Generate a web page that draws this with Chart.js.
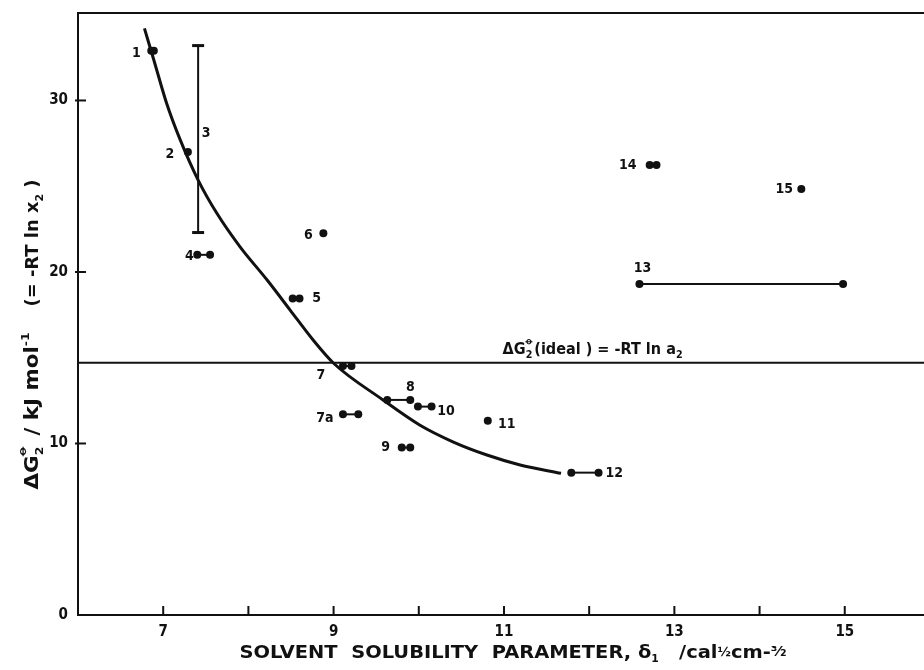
<!DOCTYPE html>
<html>
<head>
<meta charset="utf-8">
<script src="https://cdn.jsdelivr.net/npm/chart.js@4.4.0/dist/chart.umd.min.js"></script>
<style>
  html, body { margin: 0; padding: 0; background: #fff; }
  #wrap { width: 924px; height: 670px; }
</style>
</head>
<body>
<div id="wrap"><canvas id="solChart" width="924" height="670"></canvas></div>
<script>
// solvents: id, delta1 range (low/high) and dG2 value
const solventIds = ['1', '2', '4', '5', '6', '7', '7a', '8', '9', '10', '11', '12', '13', '14', '15'];
const solventLowX = [6.86, 7.29, 7.40, 8.52, 8.88, 9.11, 9.11, 9.63, 9.80, 9.99, 10.81, 11.79, 12.59, 12.71, 14.49];
const solventHighX = [6.89, 7.29, 7.55, 8.60, 8.88, 9.21, 9.29, 9.90, 9.90, 10.15, 10.81, 12.11, 14.98, 12.79, 14.49];
const solventDeltaG = [32.9, 27.0, 21.0, 18.45, 22.26, 14.52, 11.70, 12.54, 9.76, 12.15, 11.33, 8.30, 19.30, 26.24, 24.84];

// solvent 3 is a vertical range
const rangeId = '3';
const rangeX = 7.41;
const rangeLow = 22.3;
const rangeHigh = 33.2;

// fitted curve
const curveX = [6.78, 6.89, 7.04, 7.20, 7.41, 7.63, 7.90, 8.22, 8.49, 8.76, 9.0, 9.58, 10.01, 10.40, 10.80, 11.19, 11.67];
const curveY = [34.2, 32.36, 29.84, 27.70, 25.36, 23.42, 21.48, 19.53, 17.78, 16.03, 14.68, 12.54, 11.08, 10.10, 9.33, 8.75, 8.26];

// ideal line
const idealDeltaG = 14.71;

// axis ticks
const xTickValues = [7, 8, 9, 10, 11, 12, 13, 14, 15];
const xTickLabels = ['7', '', '9', '', '11', '', '13', '', '15'];
const yTickValues = [0, 10, 20, 30];

const INK = '#111';
const FONT = "'DejaVu Sans', sans-serif";
const COND = "'DejaVu Sans Condensed', 'DejaVu Sans', sans-serif";

// label offsets in px from the first mark of each solvent
const labelOffsets = {
  '1': [-15, 3], '2': [-18, 2], '4': [-8, 2], '5': [24, 0], '6': [-15, 2],
  '7': [-22, 9], '7a': [-18, 4], '8': [23, -13], '9': [-16, 0], '10': [28, 5],
  '11': [19, 4], '12': [43, 1], '13': [3, -16], '14': [-22, 0], '15': [-17, 0]
};

const datasets = [];

datasets.push({
  data: curveX.map((x, i) => ({ x: x, y: curveY[i] })),
  showLine: true,
  borderColor: INK,
  borderWidth: 3,
  pointRadius: 0,
  cubicInterpolationMode: 'monotone'
});

datasets.push({
  data: [{ x: 6, y: idealDeltaG }, { x: 15.93, y: idealDeltaG }],
  showLine: true,
  borderColor: INK,
  borderWidth: 2,
  pointRadius: 0
});

datasets.push({
  data: [{ x: rangeX, y: rangeLow }, { x: rangeX, y: rangeHigh }],
  showLine: true,
  borderColor: INK,
  backgroundColor: INK,
  borderWidth: 2,
  pointStyle: 'line',
  pointRadius: 6,
  pointBorderWidth: 3
});

solventIds.forEach(function (id, i) {
  const pts = [{ x: solventLowX[i], y: solventDeltaG[i] }];
  if (solventHighX[i] !== solventLowX[i]) pts.push({ x: solventHighX[i], y: solventDeltaG[i] });
  datasets.push({
    data: pts,
    showLine: true,
    borderColor: INK,
    backgroundColor: INK,
    borderWidth: 2,
    pointRadius: 4,
    pointBorderWidth: 0
  });
});

// draws a run of text pieces (sub/superscripts), centred on x, optionally stretched to a width
function drawRich(ctx, parts, x, y, fitWidth, weight) {
  const w0 = weight || 'bold';
  const fontOf = p => w0 + ' ' + p.size + 'px ' + (p.family || FONT);
  const widths = parts.map(function (p) {
    ctx.font = fontOf(p);
    return ctx.measureText(p.t).width;
  });
  let total = 0;
  let prevW = 0;
  parts.forEach(function (p, i) {
    if (p.stack) { total += Math.max(0, widths[i] - prevW); } else { total += widths[i]; prevW = widths[i]; }
  });
  ctx.save();
  ctx.translate(x, y);
  if (fitWidth) ctx.scale(fitWidth / total, 1);
  let cx = -total / 2;
  let lastX = cx;
  prevW = 0;
  ctx.textAlign = 'left';
  ctx.textBaseline = 'alphabetic';
  parts.forEach(function (p, i) {
    ctx.font = fontOf(p);
    if (p.stack) {
      ctx.fillText(p.t, lastX + (prevW - widths[i]) / 2, p.dy || 0);
      cx = lastX + Math.max(prevW, widths[i]);
    } else {
      lastX = cx;
      prevW = widths[i];
      ctx.fillText(p.t, cx, p.dy || 0);
      cx += widths[i];
    }
  });
  ctx.restore();
}

const decorPlugin = {
  id: 'decor',
  afterDatasetsDraw(chart) {
    const ctx = chart.ctx;
    const xs = chart.scales.x;
    const ys = chart.scales.y;
    const area = chart.chartArea;
    ctx.save();
    ctx.fillStyle = INK;
    ctx.strokeStyle = INK;

    // top frame line
    ctx.lineWidth = 2;
    ctx.beginPath();
    ctx.moveTo(area.left - 1, area.top);
    ctx.lineTo(area.right, area.top);
    ctx.stroke();

    // inward tick marks
    ctx.lineWidth = 2;
    xs.ticks.forEach(function (t) {
      const px = xs.getPixelForValue(t.value);
      ctx.beginPath();
      ctx.moveTo(px, area.bottom);
      ctx.lineTo(px, area.bottom - 9);
      ctx.stroke();
    });
    ys.ticks.forEach(function (t) {
      if (t.value === 0) return;
      const py = ys.getPixelForValue(t.value);
      ctx.beginPath();
      ctx.moveTo(area.left - 3, py);
      ctx.lineTo(area.left + 8, py);
      ctx.stroke();
    });

    // point labels
    ctx.font = 'bold 14px ' + COND;
    ctx.textAlign = 'center';
    ctx.textBaseline = 'middle';
    solventIds.forEach(function (id, i) {
      const off = labelOffsets[id];
      const px = xs.getPixelForValue(solventLowX[i]);
      const py = ys.getPixelForValue(solventDeltaG[i]);
      ctx.fillText(id, px + off[0], py + off[1]);
    });
    const rx = xs.getPixelForValue(rangeX);
    const ry = ys.getPixelForValue((rangeLow + rangeHigh) / 2);
    ctx.fillText(rangeId, rx + 8, ry - 6);

    // ideal line annotation
    const ax = xs.getPixelForValue(12.04);
    const ay = ys.getPixelForValue(idealDeltaG) - 9;
    drawRich(ctx, [
      { t: '\u0394G', size: 15 },
      { t: '2', size: 10, dy: 4 },
      { t: '\u29B5', size: 11, dy: -10, stack: true },
      { t: '(ideal ) = -RT ln a', size: 15 },
      { t: '2', size: 10, dy: 4 }
    ], ax, ay, 180);

    // x axis title
    drawRich(ctx, [
      { t: 'SOLVENT  SOLUBILITY  PARAMETER, \u03B4', size: 18 },
      { t: '1', size: 10, dy: 4 },
      { t: '   /cal', size: 18 },
      { t: '\u00BD', size: 12, dy: -2 },
      { t: 'cm-', size: 18 },
      { t: '\u00B3\u2044\u2082', size: 14, dy: -2 }
    ], 513, 658, 547);

    // y axis titles (rotated)
    ctx.translate(31, 0);
    ctx.rotate(-Math.PI / 2);
    drawRich(ctx, [
      { t: '\u0394G', size: 19 },
      { t: '2', size: 11, dy: 5 },
      { t: '\u29B5', size: 13, dy: -12, stack: true },
      { t: ' / kJ mol', size: 19 },
      { t: '-1', size: 11, dy: -9 }
    ], -411, 7, 157);
    drawRich(ctx, [
      { t: '(= -RT ln x', size: 18 },
      { t: '2', size: 11, dy: 5 },
      { t: ' )', size: 18 }
    ], -243, 7, 127);
    ctx.restore();
  }
};

const chart = new Chart(document.getElementById('solChart'), {
  type: 'scatter',
  data: { datasets: datasets },
  options: {
    responsive: false,
    animation: false,
    layout: { autoPadding: false, padding: { top: 13, right: 0, left: 0, bottom: 0 } },
    plugins: { legend: { display: false }, tooltip: { enabled: false } },
    scales: {
      x: {
        type: 'linear',
        min: 6,
        max: 15.93,
        afterBuildTicks: function (scale) {
          scale.ticks = xTickValues.map(v => ({ value: v }));
        },
        afterFit: function (scale) {
          scale.height = 55;
          scale.paddingLeft = 0;
          scale.paddingRight = 0;
        },
        grid: { drawOnChartArea: false, drawTicks: false },
        border: { display: true, color: INK, width: 2 },
        ticks: {
          padding: 8,
          color: INK,
          font: { family: COND, size: 15, weight: 'bold' },
          maxRotation: 0,
          autoSkip: false,
          callback: function (v) {
            const k = xTickValues.indexOf(v);
            return k >= 0 ? xTickLabels[k] : '';
          }
        }
      },
      y: {
        type: 'linear',
        min: 0,
        max: 35.1,
        afterBuildTicks: function (scale) {
          scale.ticks = yTickValues.map(v => ({ value: v }));
        },
        afterFit: function (scale) {
          scale.width = 78;
          scale.paddingTop = 0;
          scale.paddingBottom = 0;
        },
        grid: { drawOnChartArea: false, drawTicks: false },
        border: { display: true, color: INK, width: 2 },
        ticks: {
          padding: 10,
          color: INK,
          font: { family: COND, size: 15, weight: 'bold' }
        }
      }
    }
  },
  plugins: [decorPlugin]
});
</script>
</body>
</html>
